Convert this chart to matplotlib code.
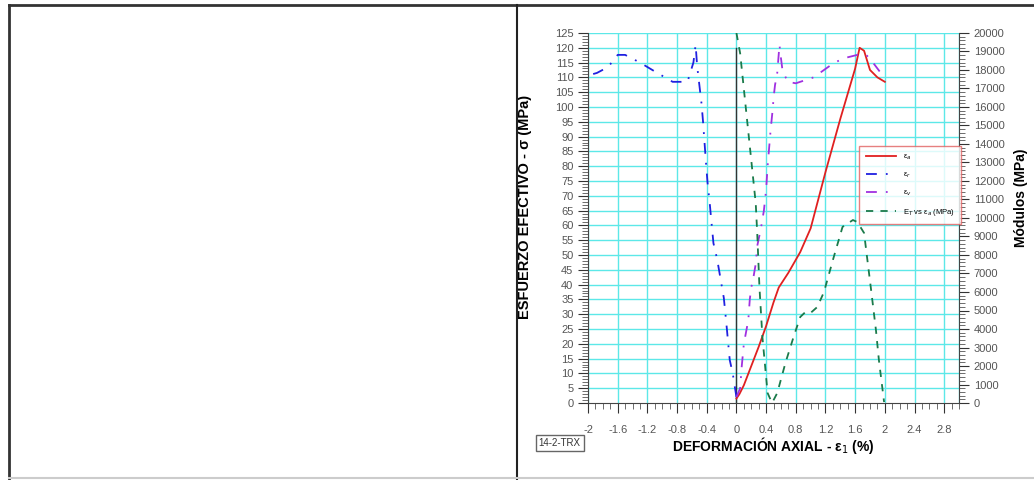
import matplotlib
matplotlib.use("Agg")
import matplotlib.pyplot as plt
from matplotlib.lines import Line2D
from matplotlib.ticker import MultipleLocator

# esfuerzo vs deformacion axial (ea)
ea_x = [0.0, 0.04, 0.1, 0.2, 0.3, 0.4, 0.5, 0.57, 0.7, 0.86, 1.0, 1.2, 1.4, 1.6, 1.66, 1.72, 1.8, 1.9, 2.0]
ea_y = [1.5, 3.0, 6.0, 12.5, 19.0, 26.0, 34.0, 39.0, 44.0, 51.0, 59.0, 78.0, 96.0, 113.0, 120.0, 119.0, 112.5, 110.0, 108.5]

# deformacion radial (er)
er_x = [0.0, -0.05, -0.09, -0.12, -0.14, -0.17, -0.26, -0.31, -0.34, -0.36, -0.39, -0.41, -0.43, -0.45,
        -0.47, -0.5, -0.53, -0.55, -0.58, -0.66, -0.86, -1.1, -1.3, -1.5, -1.6, -1.73, -1.88, -1.95]
er_y = [2.0, 10.0, 14.5, 22.6, 28.0, 35.5, 48.6, 54.0, 62.0, 67.5, 74.6, 81.0, 88.0, 95.0,
        101.0, 107.5, 114.0, 121.0, 115.0, 108.5, 108.5, 112.0, 115.0, 117.6, 117.6, 113.5, 111.5, 111.0]

# deformacion volumetrica (ev)
ev_x = [0.0, 0.05, 0.07, 0.1, 0.13, 0.16, 0.18, 0.2, 0.23, 0.26, 0.28, 0.33, 0.37, 0.4, 0.42, 0.44,
        0.46, 0.49, 0.5, 0.52, 0.55, 0.58, 0.6, 0.62, 0.69, 0.8, 1.04, 1.18, 1.32, 1.47, 1.63, 1.75, 1.84, 1.93]
ev_y = [2.0, 5.0, 12.0, 20.0, 24.0, 28.0, 35.0, 39.0, 42.6, 47.0, 53.0, 59.0, 65.0, 72.0, 80.0, 86.0,
        92.0, 99.6, 103.0, 107.4, 111.5, 121.0, 116.5, 112.5, 108.5, 108.0, 110.0, 112.5, 115.0, 116.6, 117.6, 117.6, 115.0, 112.0]

# modulo tangente vs ea (MPa)
et_x = [0.0, 0.05, 0.12, 0.19, 0.26, 0.28, 0.31, 0.35, 0.42, 0.48, 0.55, 0.66, 0.77, 0.86, 0.93, 1.0,
        1.09, 1.18, 1.3, 1.43, 1.57, 1.63, 1.72, 1.81, 1.88, 1.92, 1.99]
et_y = [20000, 18900, 16200, 13500, 10800, 9190, 6270, 3570, 540, 0, 540, 2160, 3570, 4650, 4920, 4870,
        5190, 6000, 7730, 9520, 9890, 9780, 9190, 6270, 3950, 2320, 50]

x_ticks = [-2, -1.6, -1.2, -0.8, -0.4, 0, 0.4, 0.8, 1.2, 1.6, 2, 2.4, 2.8]

CYAN = "#5ce8e8"

fig = plt.figure(figsize=(10.34, 4.80), dpi=100)
plt.rcParams['font.family'] = ['Liberation Sans', 'DejaVu Sans']

# marco de la tabla
fig.add_artist(Line2D([0.0087, 1.0], [0.9896, 0.9896], color="#333333", lw=2))
fig.add_artist(Line2D([0.0087, 0.0087], [0.0, 0.9896], color="#333333", lw=2))
fig.add_artist(Line2D([0.5, 0.5], [0.0, 0.9896], color="#222222", lw=1.5))
fig.add_artist(Line2D([0.0087, 1.0], [0.004, 0.004], color="#cccccc", lw=1.5))

ax = fig.add_axes([0.5687, 0.1604, 0.3588, 0.7709])
ax.set_xlim(-2, 3)
ax.set_ylim(0, 125)
ax.set_xticks(x_ticks)
ax.set_xticklabels([f"{t:g}" for t in x_ticks])
ax.xaxis.set_minor_locator(MultipleLocator(0.1))
ax.set_yticks(range(0, 130, 5))
ax.yaxis.set_minor_locator(MultipleLocator(1))
ax.tick_params(axis="both", which="major", direction="out", length=7, labelsize=8, colors="#333333", labelcolor="#555555")
ax.tick_params(axis="x", which="major", pad=9)
ax.tick_params(axis="both", which="minor", direction="out", length=4, color="#555555")
for s in ["top", "right"]:
    ax.spines[s].set_visible(False)
for s in ["left", "bottom"]:
    ax.spines[s].set_color("#444444")

for gx in x_ticks:
    ax.axvline(gx, color=CYAN, lw=1, zorder=0)
for gy in range(5, 130, 5):
    ax.axhline(gy, color=CYAN, lw=1, zorder=0)
ax.axvline(3, color=CYAN, lw=1, zorder=0)
ax.plot([0, 0], [0, 120], color="#333333", lw=1, zorder=1)

l1, = ax.plot(ea_x, ea_y, color="#e02020", lw=1.3, zorder=3)
l2, = ax.plot(er_x, er_y, color="#2020e0", lw=1.3, dashes=(6, 5, 1, 5), zorder=3)
l3, = ax.plot(ev_x, ev_y, color="#a030e0", lw=1.3, dashes=(6, 5, 1, 5), zorder=3)

ax2 = ax.twinx()
ax2.set_ylim(0, 20000)
ax2.set_yticks(range(0, 21000, 1000))
ax2.yaxis.set_minor_locator(MultipleLocator(200))
ax2.tick_params(axis="y", which="major", direction="out", length=7, labelsize=8, colors="#333333", labelcolor="#555555")
ax2.tick_params(axis="y", which="minor", direction="out", length=4, color="#555555")
for s in ["top", "left", "bottom"]:
    ax2.spines[s].set_visible(False)
ax2.spines["right"].set_color("#444444")
l4, = ax2.plot(et_x, et_y, color="#1a7a4a", lw=1.3, dashes=(4, 4), zorder=3)

ax.set_ylabel("ESFUERZO EFECTIVO - σ (MPa)", fontsize=10.5, fontweight="bold")
ax.yaxis.set_label_coords(-0.151, 0.53)
ax.set_xlabel("DEFORMACIÓN AXIAL - ε$_1$ (%)", fontsize=10, fontweight="bold")
ax.xaxis.set_label_coords(0.5, -0.087)
ax2.set_ylabel("Módulos (MPa)", fontsize=10, fontweight="bold")
ax2.yaxis.set_label_coords(1.147, 0.555)

leg = ax2.legend([l1, l2, l3, l4], ["ε$_a$", "ε$_r$", "ε$_v$", "E$_T$ vs ε$_a$ (MPa)"],
                 loc="upper left", bbox_to_anchor=(0.72, 0.705), fontsize=5.5,
                 frameon=True, fancybox=False, handlelength=4, borderpad=0.9, labelspacing=1.1)
leg.get_frame().set_edgecolor("#e06060")
leg.get_frame().set_linewidth(1)

fig.text(0.521, 0.071, "14-2-TRX", fontsize=7, color="#333333",
         bbox=dict(boxstyle="square,pad=0.3", fc="white", ec="#666666", lw=1))

fig.savefig("out.png", dpi=100)
